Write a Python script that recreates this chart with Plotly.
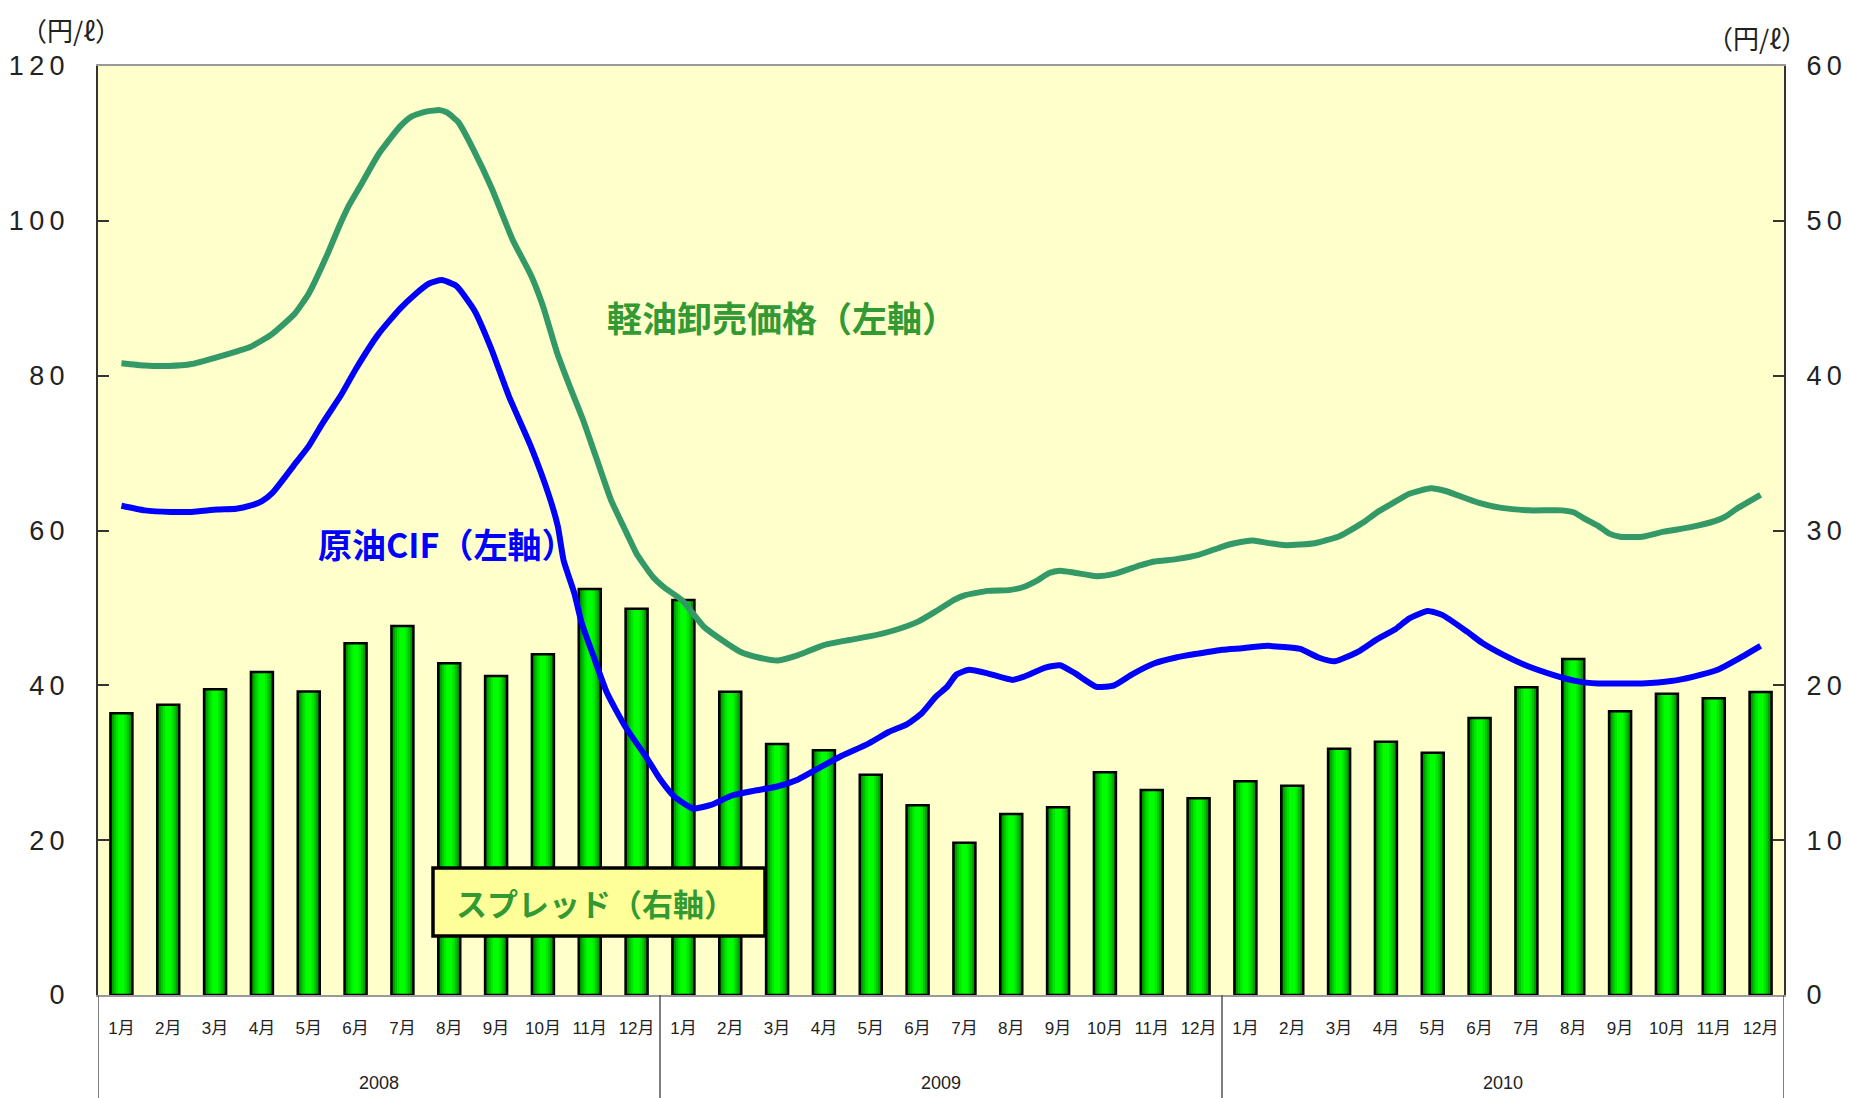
import plotly.graph_objects as go

# ---------------- data ----------------
years = ["2008", "2009", "2010"]
month_labels = [f"{m}月" for m in range(1, 13)] * 3
month_idx = list(range(36))

# spread (right axis, 円/ℓ), monthly
spread = [18.2, 18.75, 19.74, 20.86, 19.6, 22.71, 23.83, 21.42, 20.6, 22.0, 26.22, 24.95,
          25.51, 19.59, 16.21, 15.8, 14.23, 12.25, 9.84, 11.69, 12.12, 14.38, 13.24, 12.7,
          13.8, 13.52, 15.91, 16.36, 15.65, 17.89, 19.87, 21.7, 18.32, 19.46, 19.16, 19.57]

# gas oil wholesale price (left axis) — time in months since Jan 2008
gasoil_t = [0, 0.5, 1.0, 1.5, 2.05, 2.5, 2.75, 3.2, 3.7, 4.0, 4.15, 4.4, 4.65, 4.85, 5.1, 5.5,
            5.95, 6.2, 6.5, 6.8, 6.95, 7.2, 7.5, 7.9, 8.35, 8.75, 9.0, 9.3, 9.6, 9.85, 10.15,
            10.45, 10.8, 11.0, 11.35, 11.6, 11.97, 12.43, 12.82, 13.21, 13.6, 14.02, 14.45,
            15.0, 15.54, 16.0, 16.47, 17.0, 17.4, 17.8, 18.02, 18.5, 18.95, 19.26, 19.57,
            19.81, 20.04, 20.35, 20.82, 21.2, 21.75, 22.06, 22.52, 23.0, 23.5, 23.77, 24.16,
            24.47, 24.86, 25.48, 26.02, 26.53, 26.8, 27.11, 27.5, 27.96, 28.27, 28.97, 29.44,
            30.06, 30.76, 31.03, 31.22, 31.53, 31.77, 32.0, 32.47, 32.93, 33.48, 34.02, 34.25,
            34.49, 35.0]
gasoil = [81.6, 81.3, 81.25, 81.5, 82.4, 83.2, 83.7, 85.3, 88.0, 90.6, 92.4, 95.7, 99.3, 101.9,
          104.5, 108.7, 112.2, 113.5, 114.1, 114.3, 114.0, 112.7, 109.4, 104.3, 97.6, 92.9,
          89.0, 83.0, 78.2, 74.4, 69.2, 64.0, 59.5, 57.0, 54.0, 52.6, 51.0, 47.6, 45.85, 44.35,
          43.6, 43.2, 43.9, 45.2, 45.85, 46.35, 47.05, 48.2, 49.6, 51.1, 51.65, 52.2, 52.3,
          52.7, 53.6, 54.5, 54.8, 54.55, 54.1, 54.4, 55.5, 56.0, 56.3, 56.85, 57.9, 58.35,
          58.7, 58.4, 58.1, 58.35, 59.3, 61.1, 62.3, 63.4, 64.75, 65.45, 65.1, 63.6, 62.95,
          62.6, 62.6, 62.3, 61.6, 60.6, 59.6, 59.2, 59.2, 59.85, 60.4, 61.2, 61.8, 62.8, 64.6]

# crude oil CIF (left axis)
crude_t = [0, 0.5, 1.05, 1.5, 2.05, 2.45, 2.75, 3.0, 3.23, 3.73, 4.0, 4.3, 4.7, 5.0, 5.48,
           5.94, 6.25, 6.57, 6.84, 7.15, 7.54, 7.89, 8.27, 8.74, 9.13, 9.32, 9.44, 9.67, 9.83,
           10.06, 10.37, 10.76, 11.22, 11.5, 11.81, 12.2, 12.59, 13.05, 13.52, 13.98, 14.45,
           14.92, 15.38, 15.93, 16.39, 16.78, 17.09, 17.4, 17.63, 17.83, 18.1, 18.49, 19.03,
           19.26, 19.73, 20.04, 20.35, 20.82, 21.2, 21.59, 22.06, 22.52, 22.99, 23.5, 23.93,
           24.47, 25.17, 25.56, 25.91, 26.41, 26.8, 27.19, 27.5, 27.89, 28.2, 28.74, 29.05,
           29.52, 29.98, 30.6, 31.07, 31.53, 32.0, 32.47, 33.09, 33.55, 34.1, 34.49, 35.0]
crude = [63.2, 62.6, 62.4, 62.4, 62.7, 62.8, 63.2, 63.8, 64.9, 68.8, 70.9, 73.9, 77.6, 80.8,
         85.3, 88.6, 90.4, 91.9, 92.35, 91.6, 88.4, 83.6, 77.4, 70.9, 64.5, 60.5, 56.2, 51.9,
         48.0, 44.1, 39.0, 34.65, 30.6, 27.9, 25.6, 24.1, 24.55, 25.8, 26.4, 26.9, 27.85,
         29.4, 30.9, 32.4, 34.0, 35.0, 36.4, 38.6, 39.8, 41.4, 42.0, 41.55, 40.7, 41.1, 42.3,
         42.6, 41.6, 39.8, 40.0, 41.45, 42.85, 43.6, 44.1, 44.6, 44.8, 45.1, 44.7, 43.6, 43.1,
         44.35, 45.9, 47.2, 48.65, 49.6, 49.1, 46.9, 45.5, 43.9, 42.6, 41.3, 40.55, 40.25,
         40.25, 40.25, 40.55, 41.1, 42.05, 43.3, 45.1]

left_ticks = [0, 20, 40, 60, 80, 100, 120]
right_ticks = [0, 10, 20, 30, 40, 50, 60]
THIN = "\u2009"
left_ticktext = [THIN.join(str(v)) for v in left_ticks]
right_ticktext = [THIN.join(str(v)) for v in right_ticks]

# ---------------- figure ----------------
fig = go.Figure()

# bars with a simulated horizontal gradient (dark edges, bright centre)
layers = [(0.47, "#007500"), (0.40, "#00a000"), (0.32, "#00c800"), (0.23, "#00e800"), (0.13, "#00ff00")]
for w, c in layers:
    fig.add_trace(go.Bar(x=month_idx, y=spread, width=w, marker=dict(color=c, line=dict(width=0)),
                         yaxis="y", showlegend=False, hoverinfo="skip"))
fig.add_trace(go.Bar(x=month_idx, y=spread, width=0.47, name="スプレッド（右軸）",
                     marker=dict(color="rgba(0,0,0,0)", line=dict(color="black", width=2.5)),
                     yaxis="y", showlegend=False))

fig.add_trace(go.Scatter(x=gasoil_t, y=gasoil, mode="lines", name="軽油卸売価格（左軸）",
                         line=dict(color="#339966", width=6, shape="spline", smoothing=0.5),
                         yaxis="y2", showlegend=False))
fig.add_trace(go.Scatter(x=crude_t, y=crude, mode="lines", name="原油CIF（左軸）",
                         line=dict(color="#0000ff", width=6, shape="spline", smoothing=0.5),
                         yaxis="y2", showlegend=False))

# page has an 8px body margin: figure sits at (8, 8) in the 1850x1098 window
W, H = 1842, 1090
L, T = 90, 58
PW, PH = 1686, 929
R, B = W - L - PW, H - T - PH

# helpers: convert window pixel coords to paper coords (plot area spans 98..1784, 66..995)
def px(xp):
    return (xp - 98) / PW

def py(yp):
    return (995 - yp) / PH

tick_font = dict(family="Liberation Sans, Noto Sans CJK JP", size=27, color="#222")

fig.update_layout(
    width=W, height=H,
    margin=dict(l=L, r=R, t=T, b=B, autoexpand=False),
    paper_bgcolor="white", plot_bgcolor="#ffffcc",
    barmode="overlay",
    font=dict(family="Liberation Sans, Noto Sans CJK JP", color="#222"),
    xaxis=dict(range=[-0.5, 35.5], tickmode="array", tickvals=month_idx, ticktext=month_labels,
               showgrid=False, zeroline=False, showline=True, linecolor="#999", linewidth=2,
               mirror=True, ticks="", ticklabelstandoff=17,
               tickfont=dict(family="Liberation Sans, Noto Sans CJK JP", size=17, color="#222")),
    yaxis=dict(range=[0, 60], tickmode="array", tickvals=right_ticks, ticktext=right_ticktext,
               side="right", showgrid=False, zeroline=False, showline=True, linecolor="#333",
               linewidth=2, ticks="inside", ticklen=11, tickcolor="#333", tickwidth=1.5,
               ticklabelstandoff=15, tickfont=tick_font),
    yaxis2=dict(range=[0, 120], tickmode="array", tickvals=left_ticks, ticktext=left_ticktext,
                side="left", overlaying="y", showgrid=False, zeroline=False, showline=True,
                linecolor="#333", linewidth=2, ticks="inside", ticklen=11, tickcolor="#333",
                tickwidth=1.5, ticklabelstandoff=26, tickfont=tick_font),
)

# year divider lines below the axis
for xb in [-0.5, 11.5, 23.5, 35.5]:
    fig.add_shape(type="line", xref="x", yref="paper", x0=xb, x1=xb, y0=0, y1=-0.12,
                  line=dict(color="#555", width=1.5))

for i, yr in enumerate(years):
    fig.add_annotation(x=5.5 + 12 * i, xref="x", y=py(1083), yref="paper", text=yr,
                       xanchor="center", yanchor="middle", showarrow=False,
                       font=dict(size=18, color="#222"))

# unit labels
unit_font = dict(size=26, color="#222", family="Noto Sans CJK JP")
fig.add_annotation(x=px(71), y=py(29), xref="paper", yref="paper", text="（円/ℓ）",
                   xanchor="center", yanchor="middle", showarrow=False, font=unit_font,
                   borderpad=0)
fig.add_annotation(x=px(1757), y=py(37), xref="paper", yref="paper", text="（円/ℓ）",
                   xanchor="center", yanchor="middle", showarrow=False, font=unit_font,
                   borderpad=0)

# series labels
fig.add_annotation(x=px(605), y=py(316), xref="paper", yref="paper", xanchor="left",
                   yanchor="middle", text="<b>軽油卸売価格（左軸）</b>", showarrow=False,
                   font=dict(size=35, color="#339933", family="Noto Sans CJK JP"))
fig.add_annotation(x=px(316), y=py(543), xref="paper", yref="paper", xanchor="left",
                   yanchor="middle", text="<b>原油CIF（左軸）</b>", showarrow=False,
                   font=dict(size=34, color="#0000ff", family="Noto Sans CJK JP"))

# spread legend box
fig.add_shape(type="rect", xref="paper", yref="paper", x0=px(433), x1=px(765),
              y0=py(936), y1=py(868), layer="above",
              line=dict(color="black", width=3.5), fillcolor="#ffff99")
fig.add_annotation(x=px(454), y=py(902), xref="paper", yref="paper", xanchor="left",
                   yanchor="middle", text="<b>スプレッド（右軸）</b>", showarrow=False,
                   font=dict(size=31, color="#339933", family="Noto Sans CJK JP"))

fig.write_html("out.html")
